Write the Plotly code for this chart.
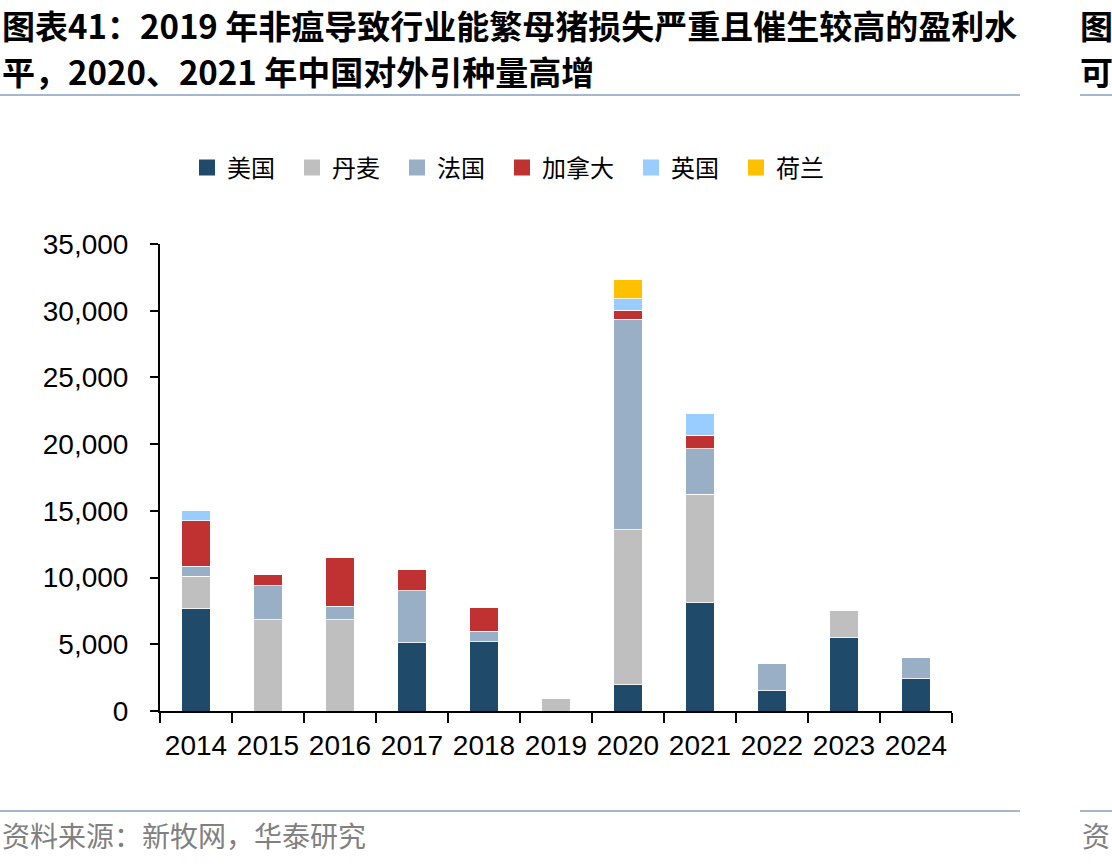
import plotly.graph_objects as go

years = ['2014', '2015', '2016', '2017', '2018', '2019', '2020', '2021', '2022', '2023', '2024']
us = [7650, 0, 0, 5100, 5200, 0, 1950, 8125, 1500, 5475, 2425]
denmark = [2450, 6850, 6850, 0, 0, 950, 11625, 8125, 0, 2025, 0]
france = [750, 2525, 1000, 3925, 775, 0, 15800, 3400, 2075, 0, 1550]
canada = [3400, 875, 3675, 1550, 1800, 0, 650, 1000, 0, 0, 0]
uk = [750, 0, 0, 0, 0, 0, 875, 1625, 0, 0, 0]
netherlands = [0, 0, 0, 0, 0, 0, 1425, 0, 0, 0, 0]

series = [
    ('美国', us, '#1F4A6A'),
    ('丹麦', denmark, '#BFBFBF'),
    ('法国', france, '#99AFC6'),
    ('加拿大', canada, '#C03131'),
    ('英国', uk, '#99CCFF'),
    ('荷兰', netherlands, '#FFC000'),
]

W, H = 1112, 866
L, R, T, B = 160, 952, 244, 711


def px(x):
    return (x - L) / (R - L)


def py(y):
    return (B - y) / (B - T)


fig = go.Figure()
for name, vals, color in series:
    fig.add_trace(go.Bar(
        x=years, y=vals, name=name, showlegend=False, legendgroup=name,
        marker=dict(color=color, line=dict(color='rgba(255,255,255,0.8)', width=1)),
    ))
# legend entries with larger square swatches
for i, (name, vals, color) in enumerate(series):
    label = name + ('\u2002' if i < len(series) - 1 else '')
    fig.add_trace(go.Scatter(
        x=[None], y=[None], mode='markers', name=label, legendgroup=name,
        marker=dict(symbol='square', size=16, color=color),
    ))

num_font = dict(family='Liberation Sans, Arial, sans-serif', size=28, color='#000000')
cjk = 'Noto Sans CJK SC, sans-serif'

fig.update_layout(
    width=W, height=H,
    margin=dict(l=L, r=W - R, t=T, b=H - B),
    paper_bgcolor='white', plot_bgcolor='white',
    barmode='stack', bargap=0.6,
    showlegend=True,
    legend=dict(
        orientation='h', x=px(508), y=py(168), xanchor='center', yanchor='middle',
        font=dict(family=cjk, size=24, color='#000000'),
        itemwidth=30, traceorder='normal',
    ),
    xaxis=dict(
        type='category', showline=True, linecolor='#000000', linewidth=2,
        ticks='outside', tickson='boundaries', ticklen=10, tickwidth=2, tickcolor='#000000',
        tickfont=num_font, tickangle=0, showgrid=False, zeroline=False,
        ticklabelstandoff=8,
    ),
    yaxis=dict(
        range=[0, 35000], tickvals=[0, 5000, 10000, 15000, 20000, 25000, 30000, 35000],
        tickformat=',d', showline=True, linecolor='#000000', linewidth=2,
        ticks='outside', ticklen=8, tickwidth=2, tickcolor='#000000',
        tickfont=num_font, showgrid=False, zeroline=False, ticklabelstandoff=16,
    ),
)

title_font = dict(family=cjk, size=33, color='#000000', weight='bold')
foot_font = dict(family=cjk, size=28, color='#808080')
annos = [
    ('图表41：2019 年非瘟导致行业能繁母猪损失严重且催生较高的盈利水', 0, 25, title_font),
    ('平，2020、2021 年中国对外引种量高增', 0, 71, title_font),
    ('图', 1078, 25, title_font),
    ('可', 1078, 71, title_font),
    ('资料来源：新牧网，华泰研究', 0, 835, foot_font),
    ('资', 1080, 835, foot_font),
]
for text, x, y, f in annos:
    fig.add_annotation(text=text, xref='paper', yref='paper', x=px(x), y=py(y),
                       xanchor='left', yanchor='middle', showarrow=False, font=f)

rule = dict(color='#A3B7CF', width=2)
for x0, x1, y in [(0, 1020, 95), (1080, 1112, 95), (0, 1020, 811), (1080, 1112, 811)]:
    fig.add_shape(type='line', xref='paper', yref='paper',
                  x0=px(x0), x1=px(x1), y0=py(y), y1=py(y), line=rule)

fig.write_html('out.html')
